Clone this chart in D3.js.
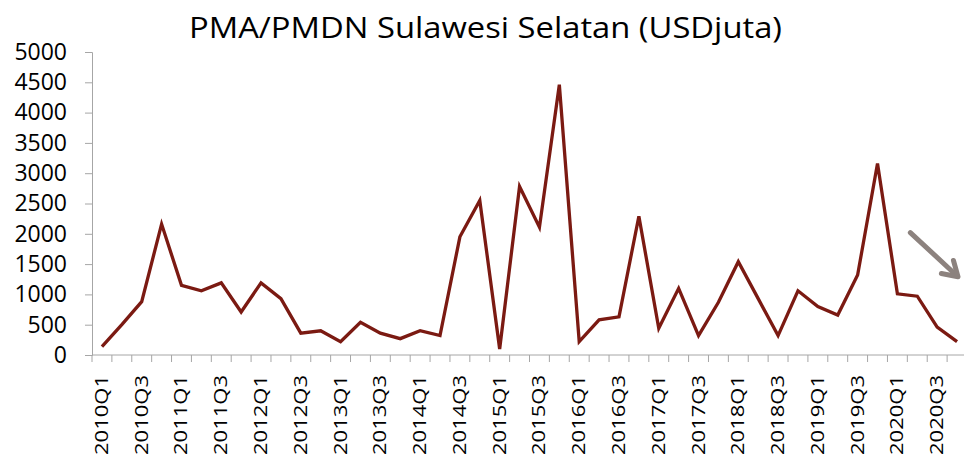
<!DOCTYPE html>
<html>
<head>
<meta charset="utf-8">
<script src="https://cdn.jsdelivr.net/npm/d3@7"></script>
<style>
  body { margin: 0; background: #fff; }
  svg { display: block; font-family: "Open Sans", "Noto Sans", sans-serif; }
</style>
</head>
<body>
<svg id="chart" width="964" height="459"></svg>
<script>
'use strict'

// quarters 2010Q1 .. 2020Q4
const years = d3.range(2010, 2021)
const quarters = years.flatMap(y => [1, 2, 3, 4].map(q => y + 'Q' + q))

// PMA/PMDN Sulawesi Selatan, USD juta
const values = [
  140, 500, 880, 2160,
  1150, 1060, 1190, 710,
  1190, 930, 360, 400,
  220, 540, 360, 270,
  400, 320, 1950, 2550,
  100, 2780, 2110, 4460,
  220, 580, 630, 2290,
  440, 1100, 320, 870,
  1540, 930, 320, 1060,
  800, 660, 1320, 3160,
  1010, 970, 460, 220
]

const yTicks = [0, 500, 1000, 1500, 2000, 2500, 3000, 3500, 4000, 4500, 5000]

// trend arrow, in data terms: [category index, value]
const arrowFrom = [40.65, 2020]
const arrowTo = [43.05, 1290]

const cfg = {
  w: 964, h: 459,
  margin: {top: 52, right: -3, bottom: 104, left: 92},
  lineColor: '#7b1a12',
  axisColor: '#a6a6a6',
  arrowColor: '#8c827e'
}

const svg = d3.select('#chart')
const innerW = cfg.w - cfg.margin.left - cfg.margin.right
const innerH = cfg.h - cfg.margin.top - cfg.margin.bottom

const x = d3.scaleBand().domain(quarters).range([0, innerW])
const y = d3.scaleLinear().domain([0, 5000]).range([innerH, 0])
const xi = i => x.step() * (i + 0.5)

const g = svg.append('g')
  .attr('transform', `translate(${cfg.margin.left},${cfg.margin.top})`)

// title
svg.append('text')
  .attr('x', 189).attr('y', 38)
  .attr('font-size', 30)
  .attr('textLength', 593)
  .attr('lengthAdjust', 'spacingAndGlyphs')
  .attr('fill', '#000')
  .text('PMA/PMDN Sulawesi Selatan (USDjuta)')

// y axis
const yAxis = g.append('g')
  .call(d3.axisLeft(y).tickValues(yTicks).tickSize(7).tickPadding(18).tickFormat(d3.format('d')))
yAxis.select('.domain').attr('stroke', cfg.axisColor)
yAxis.selectAll('.tick line').attr('stroke', cfg.axisColor)
yAxis.selectAll('.tick text').attr('font-size', 23).attr('fill', '#000')
  .attr('font-family', '"Open Sans", sans-serif')

// x axis: ticks between categories
const xAxis = g.append('g').attr('transform', `translate(0,${innerH})`)
xAxis.append('line')
  .attr('x1', 0).attr('x2', innerW)
  .attr('stroke', cfg.axisColor)
xAxis.selectAll('.xtick').data(quarters).enter().append('line')
  .attr('class', 'xtick')
  .attr('x1', d => x(d)).attr('x2', d => x(d))
  .attr('y1', 0).attr('y2', 7)
  .attr('stroke', cfg.axisColor)

xAxis.selectAll('.xlabel')
  .data(quarters.filter((d, i) => i % 2 === 0))
  .enter().append('text')
  .attr('class', 'xlabel')
  .attr('transform', d => `translate(${x(d) + x.bandwidth() / 2 + 6},20) rotate(-90)`)
  .attr('text-anchor', 'end')
  .attr('font-size', 19)
  .attr('textLength', 80)
  .attr('lengthAdjust', 'spacingAndGlyphs')
  .attr('fill', '#000')
  .text(d => d)

// series line
const line = d3.line()
  .x((d, i) => xi(i))
  .y(d => y(d))

g.append('path')
  .datum(values)
  .attr('fill', 'none')
  .attr('stroke', cfg.lineColor)
  .attr('stroke-width', 3.3)
  .attr('stroke-linejoin', 'miter')
  .attr('d', line)

// trend arrow
const ax1 = xi(arrowFrom[0]), ay1 = y(arrowFrom[1])
const ax2 = xi(arrowTo[0]), ay2 = y(arrowTo[1])
const ang = Math.atan2(ay2 - ay1, ax2 - ax1)
const head = 17
const arrow = g.append('g')
  .attr('stroke', cfg.arrowColor)
  .attr('stroke-width', 5)
  .attr('fill', 'none')
  .attr('stroke-linecap', 'round')
  .attr('stroke-linejoin', 'round')
arrow.append('line')
  .attr('x1', ax1).attr('y1', ay1)
  .attr('x2', ax2 - 2 * Math.cos(ang)).attr('y2', ay2 - 2 * Math.sin(ang))
arrow.append('polyline')
  .attr('points', [
    [ax2 - head * Math.cos(ang - 0.55), ay2 - head * Math.sin(ang - 0.55)],
    [ax2, ay2],
    [ax2 - head * Math.cos(ang + 0.55), ay2 - head * Math.sin(ang + 0.55)]
  ].map(p => p.join(',')).join(' '))
</script>
</body>
</html>
